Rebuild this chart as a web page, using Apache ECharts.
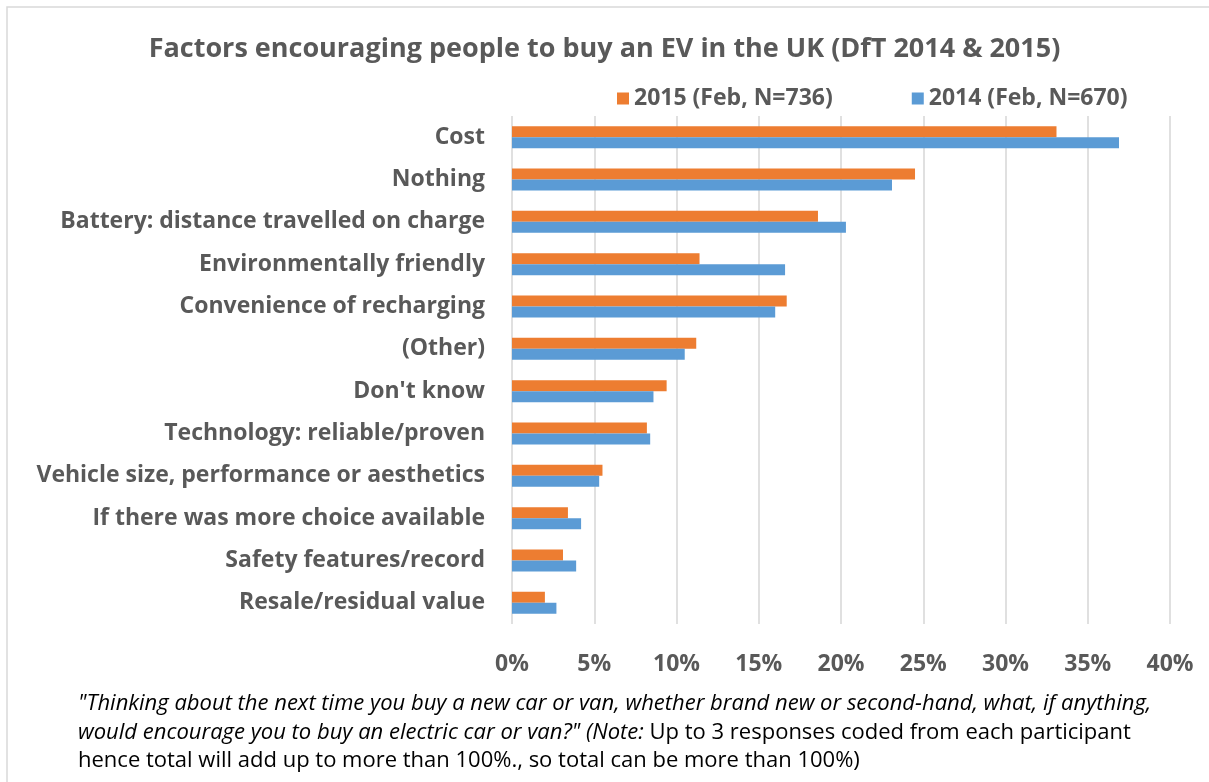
<!DOCTYPE html>
<html>
<head>
<meta charset="utf-8">
<script src="https://cdn.jsdelivr.net/npm/echarts@6/dist/echarts.min.js"></script>
<style>
  html, body { margin: 0; padding: 0; background: #fff; }
  #chart { width: 1209px; height: 782px; }
</style>
</head>
<body>
<div id="chart"></div>
<script>
// Reasons that would encourage buying an electric car or van (% of respondents)
const categories = [
  'Cost',
  'Nothing',
  'Battery: distance travelled on charge',
  'Environmentally friendly',
  'Convenience of recharging',
  '(Other)',
  "Don't know",
  'Technology: reliable/proven',
  'Vehicle size, performance or aesthetics',
  'If there was more choice available',
  'Safety features/record',
  'Resale/residual value'
];
const series2015Name = '2015 (Feb, N=736)';
const series2014Name = '2014 (Feb, N=670)';
const values2015 = [33.1, 24.5, 18.6, 11.4, 16.7, 11.2, 9.4, 8.2, 5.5, 3.4, 3.1, 2.0];
const values2014 = [36.9, 23.1, 20.3, 16.6, 16.0, 10.5, 8.6, 8.4, 5.3, 4.2, 3.9, 2.7];
const xTicks = { min: 0, max: 40, interval: 5 };

const titleText = 'Factors encouraging people to buy an EV in the UK (DfT 2014 & 2015)';
const noteLine1 = '"Thinking about the next time you buy a new car or van, whether brand new or second-hand, what, if anything,';
const noteLine2a = 'would encourage you to buy an electric car or van?" (Note:';
const noteLine2b = ' Up to 3 responses coded from each participant';
const noteLine3 = 'hence total will add up to more than 100%., so total can be more than 100%)';

const grey = '#595959';
const labelFont = '"Open Sans", "DejaVu Sans", sans-serif';
const noteSize = 22;

const chart = echarts.init(document.getElementById('chart'));
chart.setOption({
  backgroundColor: '#fff',
  animation: false,
  title: {
    text: titleText,
    left: 'center',
    top: 31,
    textStyle: { fontFamily: labelFont, fontSize: 27, fontWeight: 'bold', color: grey }
  },
  legend: {
    left: 612,
    top: 82,
    itemWidth: 12,
    itemHeight: 12,
    itemGap: 79,
    icon: 'rect',
    data: [series2015Name, series2014Name],
    textStyle: { fontFamily: labelFont, fontSize: 23, fontWeight: 'bold', color: grey }
  },
  grid: { left: 512, right: 39, top: 116, bottom: 158, containLabel: false },
  xAxis: {
    type: 'value',
    min: xTicks.min,
    max: xTicks.max,
    interval: xTicks.interval,
    axisLine: { show: false },
    axisTick: { show: false },
    splitLine: { lineStyle: { color: '#d9d9d9', width: 1.6 } },
    axisLabel: {
      formatter: '{value}%',
      margin: 29,
      fontFamily: labelFont, fontSize: 23, fontWeight: 'bold', color: grey
    }
  },
  yAxis: {
    type: 'category',
    data: categories,
    inverse: true,
    axisLine: { show: false },
    axisTick: { show: false },
    axisLabel: {
      margin: 27,
      padding: [4, 0, 0, 0],
      fontFamily: labelFont, fontSize: 23, fontWeight: 'bold', color: grey
    }
  },
  series: [
    {
      name: series2015Name,
      type: 'bar',
      data: values2015,
      itemStyle: { color: '#ED7D31' },
      barGap: '0%',
      barCategoryGap: '48%'
    },
    {
      name: series2014Name,
      type: 'bar',
      data: values2014,
      itemStyle: { color: '#5B9BD5' },
      barGap: '0%',
      barCategoryGap: '48%'
    }
  ],
  graphic: [
    {
      type: 'rect',
      shape: { x: 7, y: 7, width: 1300, height: 900 },
      style: { fill: 'none', stroke: '#d9d9d9', lineWidth: 1.5 },
      silent: true
    },
    {
      type: 'text',
      left: 78,
      top: 693,
      style: {
        text: noteLine1,
        font: 'italic ' + noteSize + 'px "Open Sans", sans-serif',
        fill: '#000'
      }
    },
    {
      type: 'text',
      left: 78,
      top: 722,
      style: {
        text: '{i|' + noteLine2a + '}{n|' + noteLine2b + '}',
        rich: {
          i: { font: 'italic ' + noteSize + 'px "Open Sans", sans-serif', fill: '#000' },
          n: { font: noteSize + 'px "Open Sans", sans-serif', fill: '#000' }
        }
      }
    },
    {
      type: 'text',
      left: 78,
      top: 750,
      style: {
        text: noteLine3,
        font: noteSize + 'px "Open Sans", sans-serif',
        fill: '#000'
      }
    }
  ]
});
</script>
</body>
</html>
